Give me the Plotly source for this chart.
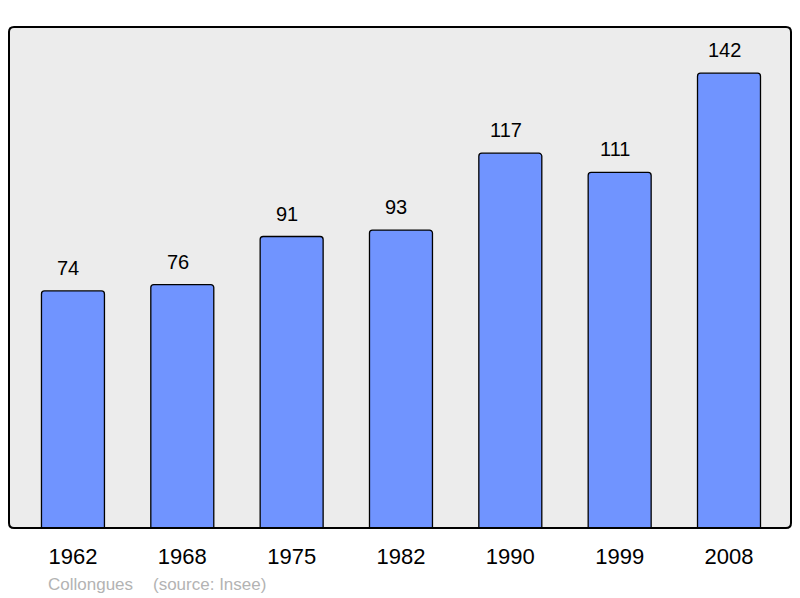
import plotly.graph_objects as go

years = ["1962", "1968", "1975", "1982", "1990", "1999", "2008"]
population = [74, 76, 91, 93, 117, 111, 142]
place_name = "Collongues"
source_text = "(source: Insee)"

W, H = 800, 598
L, R, T, B = 9, 9, 27, 70

fig = go.Figure()
fig.add_trace(go.Bar(
    x=list(range(len(years))), y=population,
    width=0.576,
    marker=dict(color="#7094ff", line=dict(color="#000000", width=1.3), cornerradius=3),
    hoverinfo="skip",
))

for i, v in enumerate(population):
    fig.add_annotation(x=i, y=v, text=str(v), showarrow=False, yanchor="bottom",
                       yshift=10, xshift=-4.5, font=dict(size=20, color="#000000"))

pw, ph = W - L - R, H - T - B
fig.add_annotation(xref="paper", yref="paper", x=(46 - L) / pw, y=-(584 - 528) / ph,
                   text=place_name, showarrow=False,
                   xanchor="left", yanchor="middle", font=dict(size=17, color="#b3b3b3"))
fig.add_annotation(xref="paper", yref="paper", x=(151 - L) / pw, y=-(584 - 528) / ph,
                   text=source_text, showarrow=False,
                   xanchor="left", yanchor="middle", font=dict(size=17, color="#b3b3b3"))

# rounded frame around plot area
r = 5
rx, ry = r / pw, r / ph
frame = (f"M {rx},0 L {1-rx},0 Q 1,0 1,{ry} L 1,{1-ry} Q 1,1 {1-rx},1 "
         f"L {rx},1 Q 0,1 0,{1-ry} L 0,{ry} Q 0,0 {rx},0 Z")
fig.add_shape(type="path", xref="paper", yref="paper", path=frame,
              line=dict(color="#000000", width=2), layer="above")

fig.update_layout(
    width=W, height=H,
    margin=dict(l=L, r=R, t=T, b=B),
    paper_bgcolor="#ffffff", plot_bgcolor="#ececec",
    font=dict(family="Liberation Sans, Arial, sans-serif", color="#000000"),
    showlegend=False,
    xaxis=dict(range=[-0.585, 6.567], tickvals=list(range(len(years))), ticktext=years,
               showgrid=False, zeroline=False, ticks="", ticklabelstandoff=13,
               tickfont=dict(size=22, color="#000000"), fixedrange=True),
    yaxis=dict(range=[0, 156.4], showgrid=False, zeroline=False, showticklabels=False,
               ticks="", fixedrange=True),
)

fig.write_html("out.html", config={"displayModeBar": False},
               post_script="document.body.style.margin='0';document.body.style.overflow='hidden';")
